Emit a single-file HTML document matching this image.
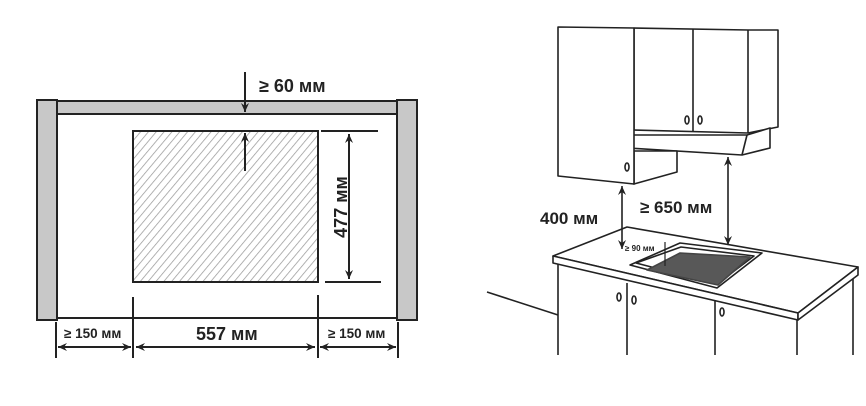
<!DOCTYPE html>
<html><head><meta charset="utf-8"><style>
html,body{margin:0;padding:0;background:#fff;}
svg{display:block;}
text{font-family:"Liberation Sans",sans-serif;font-weight:bold;fill:#222;}
</style></head><body>
<svg width="866" height="406" viewBox="0 0 866 406" xmlns="http://www.w3.org/2000/svg">
<defs>
<pattern id="h" width="6" height="6" patternUnits="userSpaceOnUse" patternTransform="rotate(40)">
<line x1="0" y1="0" x2="0" y2="6" stroke="#999" stroke-width="1.5"/>
</pattern>
<marker id="a" markerWidth="10" markerHeight="10" refX="9" refY="5" orient="auto-start-reverse" markerUnits="userSpaceOnUse">
<path d="M0,1 L9,5 L0,9 L3,5 Z" fill="#222"/>
</marker>
</defs>
<g stroke="#222" stroke-width="2">
<rect x="37" y="100" width="20" height="220" fill="#c8c8c8"/>
<rect x="397" y="100" width="20" height="220" fill="#c8c8c8"/>
<rect x="57" y="101" width="340" height="13" fill="#c8c8c8"/>
<line x1="57" y1="318" x2="397" y2="318"/>
<rect x="133" y="131" width="185" height="151" fill="url(#h)"/>
<line x1="245" y1="72" x2="245" y2="112" marker-end="url(#a)"/>
<line x1="245" y1="171" x2="245" y2="133" marker-end="url(#a)"/>
<line x1="321" y1="131" x2="378" y2="131"/>
<line x1="325" y1="282" x2="381" y2="282"/>
<line x1="349" y1="134" x2="349" y2="279" marker-start="url(#a)" marker-end="url(#a)"/>
<line x1="56" y1="322" x2="56" y2="358"/>
<line x1="133" y1="297" x2="133" y2="358"/>
<line x1="318" y1="295" x2="318" y2="358"/>
<line x1="398" y1="322" x2="398" y2="358"/>
<line x1="58" y1="347" x2="131" y2="347" marker-start="url(#a)" marker-end="url(#a)"/>
<line x1="136" y1="347" x2="315" y2="347" marker-start="url(#a)" marker-end="url(#a)"/>
<line x1="320" y1="347" x2="396" y2="347" marker-start="url(#a)" marker-end="url(#a)"/>
</g>
<text x="259" y="92" font-size="18">≥ 60 мм</text>
<text x="0" y="0" font-size="18" transform="translate(347,207) rotate(-90)" text-anchor="middle">477 мм</text>
<text x="64" y="338" font-size="13.5">≥ 150 мм</text>
<text x="196" y="340" font-size="18">557 мм</text>
<text x="328" y="338" font-size="13.5">≥ 150 мм</text>

<g stroke="#222" stroke-width="1.6" fill="#fff" stroke-linejoin="round">
<line x1="487" y1="292" x2="558" y2="315"/>
<line x1="558" y1="263" x2="558" y2="355"/>
<line x1="627" y1="283" x2="627" y2="355"/>
<line x1="715" y1="300" x2="715" y2="355"/>
<line x1="797" y1="320" x2="797" y2="355"/>
<line x1="853" y1="275" x2="853" y2="355"/>
<polygon points="553,256 627,227 858,267 798,313"/>
<polygon points="553,256 798,313 798,320 553,263"/>
<polygon points="798,313 858,267 858,275 798,320"/>
<polygon points="630,265 680,243 762,253 717,288"/>
<polygon points="636,263 681,247 754,256 717,284" fill="none"/>
<polygon points="647,270 680,253 750,257 718,285" fill="#585858" stroke="#444"/>
<ellipse cx="619" cy="297" rx="2" ry="4" fill="none"/>
<ellipse cx="634" cy="300" rx="2" ry="4" fill="none"/>
<ellipse cx="722" cy="312" rx="2" ry="4" fill="none"/>
<polygon points="634,28 748,30 778,30 778,127 748,133 634,130"/>
<line x1="748" y1="30" x2="748" y2="133"/>
<line x1="693" y1="29" x2="693" y2="131"/>
<polygon points="630,135 747,135 770,128 770,148 742,155 628,148"/>
<line x1="747" y1="135" x2="742" y2="155"/>
<polygon points="634,151 677,151 677,172 634,184"/>
<polygon points="558,27 634,28 634,184 558,176"/>
<ellipse cx="687" cy="120" rx="2" ry="4" fill="none"/>
<ellipse cx="700" cy="120" rx="2" ry="4" fill="none"/>
<ellipse cx="627" cy="167" rx="2" ry="4" fill="none"/>
</g>
<g stroke="#222" stroke-width="1.6">
<line x1="622" y1="186" x2="622" y2="249" marker-start="url(#a)" marker-end="url(#a)"/>
<line x1="728" y1="157" x2="728" y2="245" marker-start="url(#a)" marker-end="url(#a)"/>
<line x1="665" y1="242" x2="665" y2="266" stroke-width="1.2"/>
</g>
<text x="540" y="224" font-size="17">400 мм</text>
<text x="640" y="213" font-size="17">≥ 650 мм</text>
<text x="625" y="251" font-size="8">≥ 90 мм</text>
</svg>
</body></html>
